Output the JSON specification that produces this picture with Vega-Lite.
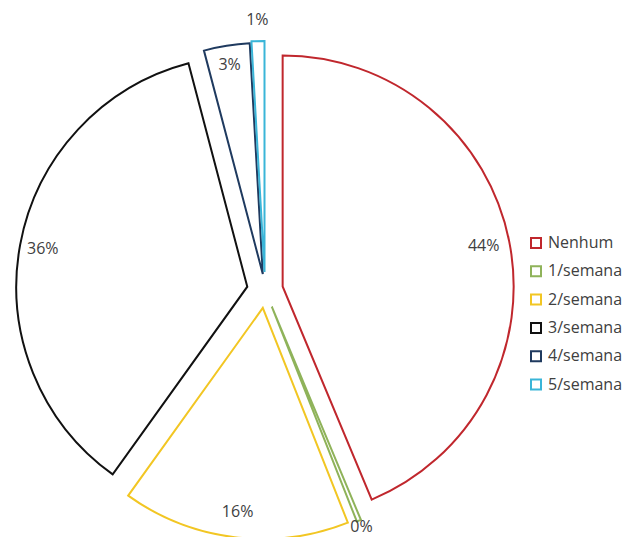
{
  "$schema": "https://vega.github.io/schema/vega-lite/v6.json",
  "width": 530,
  "height": 494,
  "autosize": {"type": "none"},
  "padding": {"top": 43, "left": 0, "right": 92, "bottom": 0},
  "background": "white",
  "config": {"view": {"stroke": null}, "text": {"font": "Open Sans", "fontSize": 16, "fill": "#404040"}},
  "data": {"values": [
    {"cat": "Nenhum", "pct": 0.437},
    {"cat": "1/semana", "pct": 0.003},
    {"cat": "2/semana", "pct": 0.159},
    {"cat": "3/semana", "pct": 0.36},
    {"cat": "4/semana", "pct": 0.032},
    {"cat": "5/semana", "pct": 0.009}
  ]},
  "transform": [{"stack": "pct", "groupby": [], "as": ["p0", "p1"]}],
  "encoding": {
    "theta": {"field": "p0", "type": "quantitative", "scale": {"domain": [0, 1]}}
  },
  "layer": [
    {"transform": [{"filter": "datum.cat === 'Nenhum'"}],
     "layer": [
      {"mark": {"type": "arc", "outerRadius": 231, "fill": "white", "strokeWidth": 2, "xOffset": 17.65, "yOffset": -3.5},
       "encoding": {"theta2": {"field": "p1"}, "stroke": {"field": "cat", "type": "nominal", "sort": null,
         "scale": {"domain": ["Nenhum", "1/semana", "2/semana", "3/semana", "4/semana", "5/semana"], "range": ["#C0272D", "#8FB35A", "#F2C623", "#111111", "#1F3A5F", "#3AB5D8"]},
         "legend": {"title": null, "orient": "none", "legendX": 528, "legendY": 192, "symbolType": "square", "symbolSize": 100, "symbolStrokeWidth": 2, "symbolFillColor": "white", "labelFont": "Open Sans", "labelFontSize": 16, "labelColor": "#404040", "rowPadding": 10.3, "labelOffset": 4}}}},
      {"mark": {"type": "text", "radius": 205, "thetaOffset": 1.3729, "xOffset": 17.65, "yOffset": -3.5, "align": "center", "baseline": "middle"},
       "encoding": {"text": {"field": "pct", "type": "quantitative", "format": ".0%"}}}
    ]},
    {"transform": [{"filter": "datum.cat === '1/semana'"}],
     "layer": [
      {"mark": {"type": "arc", "outerRadius": 231, "fill": "white", "strokeWidth": 2, "xOffset": 6.8, "yOffset": 16.7},
       "encoding": {"theta2": {"field": "p1"}, "stroke": {"field": "cat", "type": "nominal", "sort": null}}},
      {"mark": {"type": "text", "radius": 238, "thetaOffset": 0.0094, "xOffset": 6.8, "yOffset": 16.7, "align": "center", "baseline": "middle"},
       "encoding": {"text": {"field": "pct", "type": "quantitative", "format": ".0%"}}}
    ]},
    {"transform": [{"filter": "datum.cat === '2/semana'"}],
     "layer": [
      {"mark": {"type": "arc", "outerRadius": 231, "fill": "white", "strokeWidth": 2, "xOffset": -2.2, "yOffset": 17.9},
       "encoding": {"theta2": {"field": "p1"}, "stroke": {"field": "cat", "type": "nominal", "sort": null}}},
      {"mark": {"type": "text", "radius": 206, "thetaOffset": 0.4995, "xOffset": -2.2, "yOffset": 17.9, "align": "center", "baseline": "middle"},
       "encoding": {"text": {"field": "pct", "type": "quantitative", "format": ".0%"}}}
    ]},
    {"transform": [{"filter": "datum.cat === '3/semana'"}],
     "layer": [
      {"mark": {"type": "arc", "outerRadius": 231, "fill": "white", "strokeWidth": 2, "xOffset": -17.7, "yOffset": -3.3},
       "encoding": {"theta2": {"field": "p1"}, "stroke": {"field": "cat", "type": "nominal", "sort": null}}},
      {"mark": {"type": "text", "radius": 208, "thetaOffset": 1.131, "xOffset": -17.7, "yOffset": -3.3, "align": "center", "baseline": "middle"},
       "encoding": {"text": {"field": "pct", "type": "quantitative", "format": ".0%"}}}
    ]},
    {"transform": [{"filter": "datum.cat === '4/semana'"}],
     "layer": [
      {"mark": {"type": "arc", "outerRadius": 231, "fill": "white", "strokeWidth": 2, "xOffset": -2.2, "yOffset": -16},
       "encoding": {"theta2": {"field": "p1"}, "stroke": {"field": "cat", "type": "nominal", "sort": null}}},
      {"mark": {"type": "text", "radius": 212, "thetaOffset": 0.1005, "xOffset": -2.2, "yOffset": -16, "align": "center", "baseline": "middle"},
       "encoding": {"text": {"field": "pct", "type": "quantitative", "format": ".0%"}}}
    ]},
    {"transform": [{"filter": "datum.cat === '5/semana'"}],
     "layer": [
      {"mark": {"type": "arc", "outerRadius": 231, "fill": "white", "strokeWidth": 2, "xOffset": -0.5, "yOffset": -18},
       "encoding": {"theta2": {"field": "p1"}, "stroke": {"field": "cat", "type": "nominal", "sort": null}}},
      {"mark": {"type": "text", "radius": 252, "thetaOffset": 0.0283, "xOffset": -0.5, "yOffset": -18, "align": "center", "baseline": "middle"},
       "encoding": {"text": {"field": "pct", "type": "quantitative", "format": ".0%"}}}
    ]}
  ]
}
